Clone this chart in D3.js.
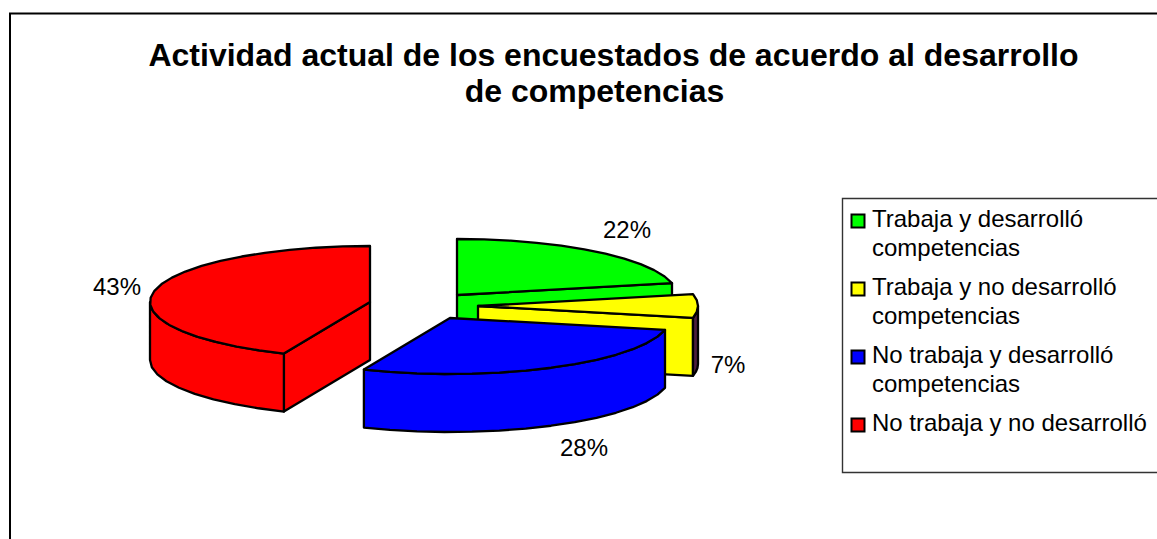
<!DOCTYPE html>
<html><head><meta charset="utf-8">
<script src="https://cdn.jsdelivr.net/npm/d3@7"></script>
<style>html,body{margin:0;padding:0;background:#fff}svg{display:block}text{font-family:"Liberation Sans",Arial,sans-serif;fill:#000}</style>
</head><body><svg id="c" width="1157" height="539"></svg>
<script>
const titleLines = ["Actividad actual de los encuestados de acuerdo al desarrollo", "de competencias"];
const titleCenters = [613.5, 594.5];
const categories = ["Trabaja y desarrolló competencias", "Trabaja y no desarrolló competencias", "No trabaja y desarrolló competencias", "No trabaja y no desarrolló"];
const legendLines = [["Trabaja y desarrolló", "competencias"], ["Trabaja y no desarrolló", "competencias"], ["No trabaja y desarrolló", "competencias"], ["No trabaja y no desarrolló"]];
const values = [21.6, 6.8, 28.0, 43.6];
const valueLabels = ["22%", "7%", "28%", "43%"];
const colors = ["#00ff00", "#ffff00", "#0000ff", "#ff0000"];
const sliceApex = [[457, 295], [478, 306], [450, 318], [370, 302]];
const labelPos = [[627, 238], [728, 373], [584, 456], [117, 295]];

const svg = d3.select("#c");
const RX = 220, RY = 56, DEPTH = 58;
const sx = d3.scaleLinear().domain([-1, 1]).range([-RX, RX]);
const sy = d3.scaleLinear().domain([-1, 1]).range([RY, -RY]);
const zd = d3.scaleLinear().domain([0, 1]).range([0, DEPTH]);
const line = d3.line().x(d => d[0]).y(d => d[1]);

const arcs = d3.pie().sort(null).value(d => d)(values);
const onRim = (apex, a, drop = 0) => [apex[0] + sx(Math.sin(a)), apex[1] + sy(Math.cos(a)) + zd(drop)];
const samples = (a0, a1) => {
  const n = Math.max(3, Math.ceil((a1 - a0) / 0.13));
  return d3.range(0, n + 1).map(i => a0 + (a1 - a0) * i / n);
};

const defs = svg.append("defs");
const g = defs.append("linearGradient").attr("id", "ya").attr("x1", "0").attr("x2", "1").attr("y1", "0").attr("y2", "0");
g.append("stop").attr("offset", "0").attr("stop-color", "#1a1a00");
g.append("stop").attr("offset", "0.13").attr("stop-color", "#ffff00");
g.append("stop").attr("offset", "1").attr("stop-color", "#ffff00");

// frame (runs off the right and bottom of the picture)
svg.append("path").attr("d", "M10,540V13.5H1160").attr("fill", "none").attr("stroke", "#000").attr("stroke-width", 2);

// title
svg.append("g").selectAll("text").data(titleLines).join("text")
  .attr("x", (d, i) => titleCenters[i]).attr("y", (d, i) => 66 + i * 36)
  .attr("text-anchor", "middle").attr("font-weight", "bold").attr("font-size", 32).text(d => d);

const stroke = s => s.attr("stroke", "#000").attr("stroke-width", 2.3).attr("stroke-linejoin", "round");
const order = [3, 0, 1, 2];
order.forEach(i => {
  const d = arcs[i], ap = sliceApex[i], c = colors[i];
  const a0 = d.startAngle, a1 = d.endAngle;
  // cut face that looks toward the viewer
  const faceAngle = i < 2 ? a1 : i === 3 ? a0 : null;
  if (faceAngle !== null) {
    const e = onRim(ap, faceAngle), e2 = onRim(ap, faceAngle, 1);
    svg.append("path").attr("d", line([ap, e, e2, [ap[0], ap[1] + DEPTH]]) + "Z").attr("fill", c).call(stroke);
  }
  // outer wall (front half of the rim)
  const w0 = Math.max(a0, Math.PI / 2), w1 = Math.min(a1, Math.PI * 1.5);
  if (w1 > w0) {
    const pts = samples(w0, w1);
    const wall = pts.map(a => onRim(ap, a)).concat(pts.slice().reverse().map(a => onRim(ap, a, 1)));
    svg.append("path").attr("d", line(wall) + "Z").attr("fill", i === 1 ? "#4d1f3d" : c).call(stroke);
  }
  // top face
  const top = [ap].concat(samples(a0, a1).map(a => onRim(ap, a)));
  svg.append("path").attr("d", line(top) + "Z").attr("fill", i === 1 ? "url(#ya)" : c).call(stroke);
});

// percentage labels
svg.append("g").selectAll("text").data(arcs).join("text")
  .attr("x", (d, i) => labelPos[i][0]).attr("y", (d, i) => labelPos[i][1])
  .attr("text-anchor", "middle").attr("font-size", 24).text((d, i) => valueLabels[i]);

// legend
const LX = 842.5, LY = 198.5;
svg.append("path").attr("d", `M1160,${LY}H${LX}V472.5H1160`).attr("fill", "none").attr("stroke", "#333").attr("stroke-width", 1.4);
const step = d3.scalePoint().domain(d3.range(categories.length)).range([220.5, 424.5]);
const lg = svg.append("g").selectAll("g").data(categories).join("g");
lg.append("rect").attr("x", 851.5).attr("y", (d, i) => step(i) - 6).attr("width", 13).attr("height", 13)
  .attr("fill", (d, i) => colors[i]).attr("stroke", "#000").attr("stroke-width", 2);
lg.each(function (d, i) {
  d3.select(this).selectAll("text").data(legendLines[i]).join("text")
    .attr("x", 872).attr("y", (t, j) => step(i) + 6 + j * 29)
    .attr("font-size", 24).text(t => t);
});
</script></body></html>
